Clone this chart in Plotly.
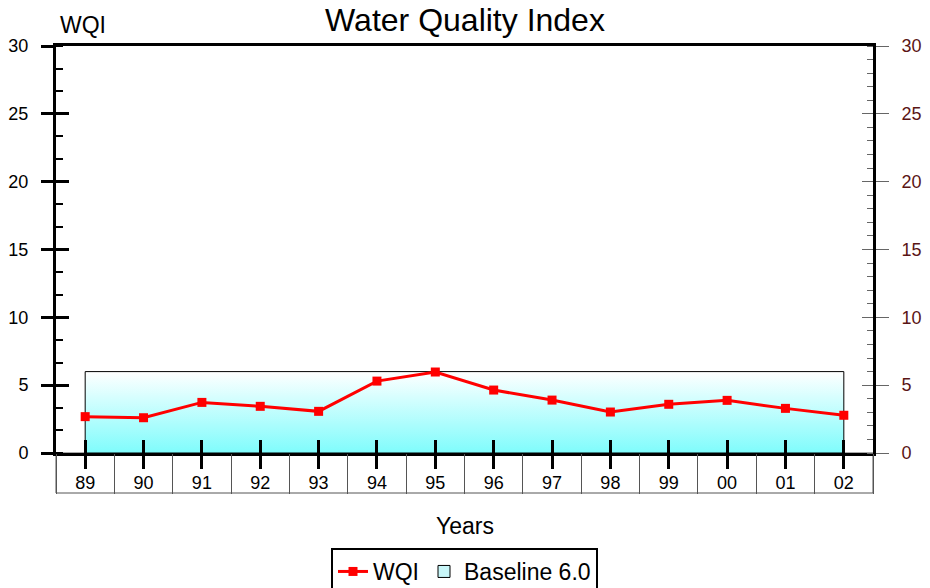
import plotly.graph_objects as go

years = ["89", "90", "91", "92", "93", "94", "95", "96", "97", "98", "99", "00", "01", "02"]
wqi = [2.68, 2.6, 3.73, 3.44, 3.07, 5.3, 5.97, 4.64, 3.9, 3.02, 3.59, 3.88, 3.29, 2.78]
baseline = 6.0
y_ticks = [0, 5, 10, 15, 20, 25, 30]

idx = list(range(len(years)))
xr = [-0.5, len(years) - 0.5]
yr = [0, 30]
FONT = "Liberation Sans, Arial, Helvetica, sans-serif"

fig = go.Figure()

# Baseline band with vertical gradient
fig.add_trace(go.Scatter(
    x=[idx[0], idx[0], idx[-1], idx[-1], idx[0]],
    y=[0, baseline, baseline, 0, 0],
    mode="lines", fill="toself",
    fillgradient=dict(type="vertical", colorscale=[[0, "#7ffcfc"], [1, "#ffffff"]]),
    line=dict(color="black", width=1),
    name="Baseline 6.0", hoverinfo="skip", showlegend=False,
))

fig.add_trace(go.Scatter(
    x=idx, y=wqi, mode="lines+markers", name="WQI",
    line=dict(color="#ff0000", width=3),
    marker=dict(symbol="square", size=9, color="#ff0000"),
))

# legend entry for the baseline band
fig.add_trace(go.Bar(x=[None], y=[None], name="Baseline 6.0",
                     marker=dict(color="#c8f6f8", line=dict(color="black", width=1)),
                     hoverinfo="skip"))

# dummy traces to register overlay axes
for xa, ya in [("x2", "y"), ("x3", "y"), ("x", "y2"), ("x", "y3"), ("x", "y4")]:
    fig.add_trace(go.Scatter(x=[None], y=[None], xaxis=xa, yaxis=ya,
                             showlegend=False, hoverinfo="skip"))

fig.update_layout(
    width=930, height=588,
    margin=dict(l=56, r=57, t=46, b=135, autoexpand=False),
    paper_bgcolor="white", plot_bgcolor="white",
    font=dict(family=FONT, color="black"),
    title=dict(text="Water Quality Index", x=0.5, xanchor="center",
               y=1 - 20 / 588, yanchor="middle", font=dict(size=32, color="black"),
               automargin=False),
    showlegend=True,
    legend=dict(orientation="h", x=0.5, xanchor="center", y=-95 / 407, yanchor="top",
                bordercolor="black", borderwidth=2, font=dict(size=23),
                itemwidth=30, traceorder="normal", tracegroupgap=0),
    xaxis=dict(range=xr, tickvals=idx, ticktext=years, ticks="outside", ticklen=13,
               tickwidth=3, tickcolor="black", showline=True, linewidth=3, linecolor="black",
               mirror=True, showgrid=False, zeroline=False, tickfont=dict(size=18),
               ticklabelstandoff=-2, automargin=False),
    xaxis2=dict(range=xr, overlaying="x", anchor="y", side="bottom",
                tickvals=[i - 0.5 for i in idx] + [idx[-1] + 0.5], showticklabels=False,
                ticks="outside", ticklen=40, tickwidth=1, tickcolor="#555555",
                showgrid=False, zeroline=False, showline=False, automargin=False),
    xaxis3=dict(range=xr, overlaying="x", anchor="y", side="bottom",
                tickvals=idx, showticklabels=False, ticks="inside", ticklen=13,
                tickwidth=3, tickcolor="black", showgrid=False, zeroline=False,
                showline=False, automargin=False),
    yaxis=dict(range=yr, tickvals=y_ticks, ticks="outside", ticklen=12, tickwidth=3,
               tickcolor="black", showline=True, linewidth=3, linecolor="black",
               showgrid=False, zeroline=False, tickfont=dict(size=18),
               ticklabelstandoff=9, automargin=False,
               minor=dict(ticks="inside", dtick=5 / 3, tick0=0, ticklen=7, tickwidth=2,
                          tickcolor="black", showgrid=False)),
    yaxis3=dict(range=yr, overlaying="y", side="left", anchor="x", tickvals=y_ticks,
                showticklabels=False, ticks="inside", ticklen=13, tickwidth=3,
                tickcolor="black", showgrid=False, zeroline=False, showline=False,
                automargin=False),
    yaxis2=dict(range=yr, overlaying="y", side="right", anchor="x", tickvals=y_ticks,
                ticks="outside", ticklen=13, tickwidth=1, tickcolor="#666666",
                showline=True, linewidth=3, linecolor="black", showgrid=False,
                zeroline=False, tickfont=dict(size=18, color="#5a1515"),
                ticklabelstandoff=9, automargin=False,
                minor=dict(ticks="inside", dtick=1, tick0=0, ticklen=6, tickwidth=1,
                           tickcolor="#666666", showgrid=False)),
    yaxis4=dict(range=yr, overlaying="y", side="right", anchor="x", tickvals=y_ticks,
                showticklabels=False, ticks="inside", ticklen=11, tickwidth=1,
                tickcolor="#666666", showgrid=False, zeroline=False, showline=False,
                automargin=False),
    shapes=[dict(type="rect", xref="paper", x0=0, x1=1, yref="paper",
                 ysizemode="pixel", yanchor=0, y0=0, y1=-40,
                 line=dict(color="#555555", width=1), layer="below")],
    annotations=[
        dict(text="WQI", xref="paper", yref="paper", x=27 / 817, y=1, xanchor="center",
             yanchor="middle", yshift=21, showarrow=False, font=dict(size=23)),
        dict(text="Years", xref="paper", yref="paper", x=0.5, y=0, xanchor="center",
             yanchor="middle", yshift=-73, showarrow=False, font=dict(size=23)),
    ],
)

fig.write_html("out.html", config={"displayModeBar": False},
               post_script="document.body.style.margin='0px';")
